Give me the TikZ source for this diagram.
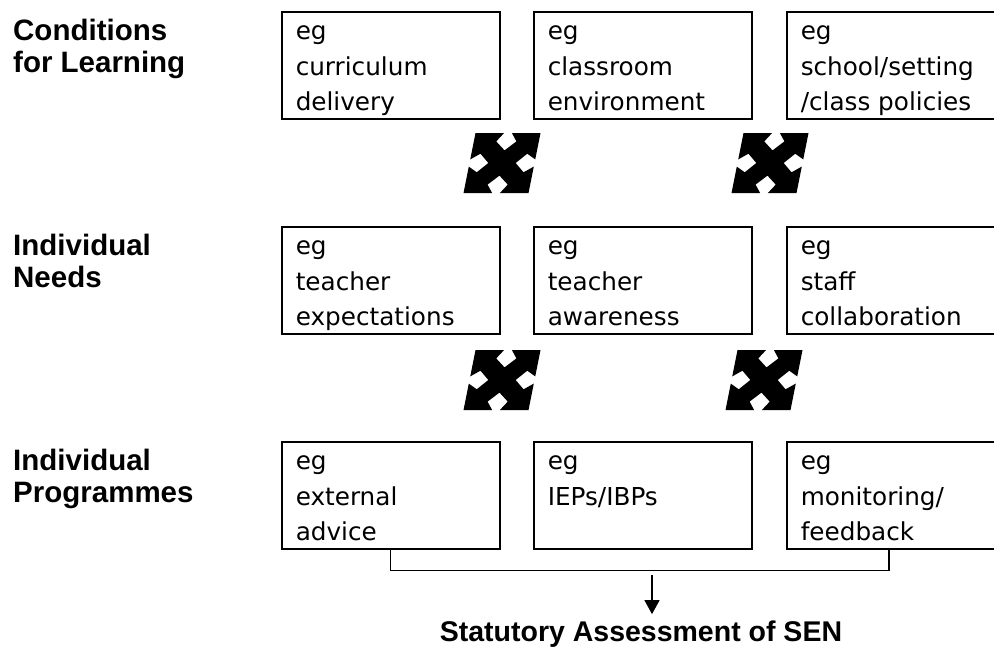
\documentclass[tikz,border=0pt]{standalone}
\usepackage{fontspec}
\setmainfont{DejaVu Sans}
\newfontfamily\headfont{Liberation Sans}
\usetikzlibrary{arrows.meta,calc}

% contents of an example box: top-aligned lines
\newcommand\boxlines[1]{\parbox[t][78.6pt][t]{190pt}{\raggedright #1}}

\tikzset{
  stage/.style={font=\headfont\bfseries\fontsize{29.5}{32}\selectfont,
    anchor=north west, inner sep=0pt, align=left},
  optbox/.style={draw, line width=1.5pt, anchor=north west,
    inner xsep=14pt, inner ysep=14.2pt,
    font=\fontsize{24.7}{35.5}\selectfont},
  link/.style={line width=1.4pt},
  outcome/.style={font=\headfont\bfseries\fontsize{28.5}{32}\selectfont,
    anchor=base, inner sep=0pt},
  crossarrow/.pic={
    \begin{scope}[x=32.5pt, y=30pt, xslant=0.2]
      \fill (-1,1) -- (-0.12,1) -- (-0.31,0.72) -- (0,0.42) -- (0.31,0.72)
        -- (0.12,1) -- (1,1) -- (1,0.12) -- (0.72,0.31) -- (0.42,0)
        -- (0.72,-0.31) -- (1,-0.12) -- (1,-1) -- (0.12,-1) -- (0.31,-0.72)
        -- (0,-0.42) -- (-0.31,-0.72) -- (-0.12,-1) -- (-1,-1) -- (-1,-0.12)
        -- (-0.72,-0.31) -- (-0.42,0) -- (-0.72,0.31) -- (-1,0.12) -- cycle;
    \end{scope}
  }
}

\begin{document}
\begin{tikzpicture}[x=1pt, y=-1pt]
  \useasboundingbox (0,0) rectangle (994,648);
  \clip (0,0) rectangle (994,648);
  \fill[white] (0,0) rectangle (994,648);

  % row headings
  \node[stage] (hcond) at (13,18.5) {Conditions\\for Learning};
  \node[stage] (hneed) at (13,233.5) {Individual\\Needs};
  \node[stage] (hprog) at (13,448.5) {Individual\\Programmes};

  % row 1
  \node[optbox] (r1a) at (281,11) {\boxlines{eg\\curriculum\\delivery}};
  \node[optbox] (r1b) at (533,11) {\boxlines{eg\\classroom\\environment}};
  \node[optbox] (r1c) at (786,11) {\boxlines{eg\\school/setting\\/class policies}};

  % row 2
  \node[optbox] (r2a) at (281,226) {\boxlines{eg\\teacher\\expectations}};
  \node[optbox] (r2b) at (533,226) {\boxlines{eg\\teacher\\awareness}};
  \node[optbox] (r2c) at (786,226) {\boxlines{eg\\staff\\collaboration}};

  % row 3
  \node[optbox] (r3a) at (281,441) {\boxlines{eg\\external\\advice}};
  \node[optbox] (r3b) at (533,441) {\boxlines{eg\\IEPs/IBPs}};
  \node[optbox] (r3c) at (786,441) {\boxlines{eg\\monitoring/\\feedback}};

  % interaction symbols between the rows
  \path (502,163) pic {crossarrow};
  \path (770,163) pic {crossarrow};
  \path (502,380) pic {crossarrow};
  \path (764,380) pic {crossarrow};

  % bracket under the programme boxes and the arrow to the outcome
  \coordinate (bkR) at ([xshift=103pt]r3c.south west);
  \draw[link] (r3a.south) -- ++(0,21) -| (bkR);
  \node[outcome] (sen) at (641,641) {Statutory Assessment of SEN};
  \coordinate (drop) at (652,575);
  \draw[link, -{Triangle[width=15pt,length=14pt]}, shorten >=6pt]
    (drop) -- (drop |- sen.north);
\end{tikzpicture}
\end{document}
